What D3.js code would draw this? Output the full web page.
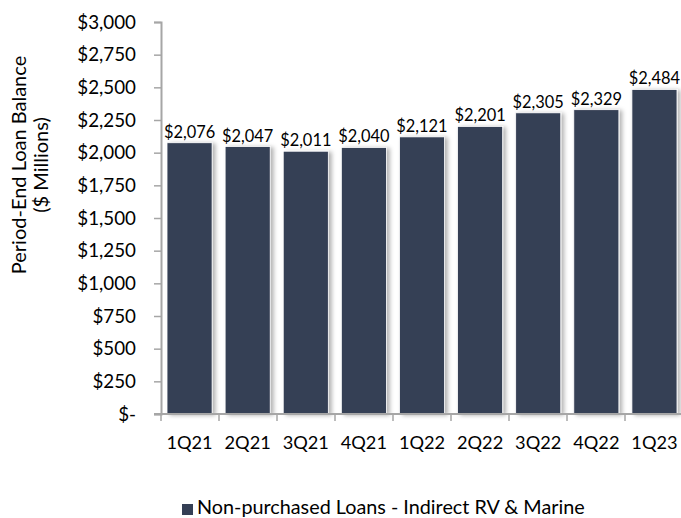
<!DOCTYPE html>
<html>
<head>
<meta charset="utf-8">
<script src="https://cdn.jsdelivr.net/npm/d3@7"></script>
<style>
  body { margin: 0; background: #fff; }
  text { font-family: Lato, "Open Sans", sans-serif; fill: #000; }
</style>
</head>
<body>
<div id="canvas"></div>
<script>
const quarters = ["1Q21", "2Q21", "3Q21", "4Q21", "1Q22", "2Q22", "3Q22", "4Q22", "1Q23"];
const balances = [2076, 2047, 2011, 2040, 2121, 2201, 2305, 2329, 2484];
const yTicks = [0, 250, 500, 750, 1000, 1250, 1500, 1750, 2000, 2250, 2500, 2750, 3000];
const seriesName = "Non-purchased Loans - Indirect RV & Marine";

const width = 681;
const height = 518;
const margin = { top: 22, left: 161, bottom: 104, right: 0 };
const iwidth = width - margin.left - margin.right;
const iheight = height - margin.top - margin.bottom;

const data = quarters.map((q, i) => ({ name: q, value: balances[i] }));

const svg = d3.select("#canvas").append("svg")
  .attr("width", width)
  .attr("height", height);

const defs = svg.append("defs");
const filter = defs.append("filter").attr("id", "shadow")
  .attr("x", "-20%").attr("y", "-5%").attr("width", "150%").attr("height", "115%");
filter.append("feDropShadow")
  .attr("dx", 3).attr("dy", 1).attr("stdDeviation", 2)
  .attr("flood-color", "#000").attr("flood-opacity", 0.3);

const g = svg.append("g")
  .attr("transform", `translate(${margin.left},${margin.top})`);

const step = 58;
const x = d3.scaleBand()
  .domain(quarters)
  .range([0, step * quarters.length])
  .paddingInner(13 / step)
  .paddingOuter(6 / step);

const y = d3.scaleLinear().domain([0, 3000]).range([iheight, 0]);

const fmt = (v) => v === 0 ? "$-" : "$" + d3.format(",")(v);

// bars
g.selectAll(".bar")
  .data(data)
  .enter()
  .append("rect")
  .attr("class", "bar")
  .attr("x", (d) => x(d.name))
  .attr("y", (d) => y(d.value))
  .attr("width", x.bandwidth())
  .attr("height", (d) => iheight - y(d.value))
  .style("fill", "#353f55")
  .style("stroke", "#fff")
  .style("stroke-width", 0.8)
  .attr("filter", "url(#shadow)");

// value labels
g.selectAll(".label")
  .data(data)
  .enter()
  .append("text")
  .attr("class", "label")
  .attr("x", (d) => x(d.name) + x.bandwidth() / 2)
  .attr("y", (d) => y(d.value) - 5)
  .attr("text-anchor", "middle")
  .style("font-size", "16.4px")
  .text((d) => fmt(d.value));

// y axis
const yAxis = g.append("g")
  .call(d3.axisLeft(y).tickValues(yTicks).tickFormat(fmt).tickSize(7).tickPadding(18));
yAxis.select(".domain").attr("stroke", "#a6a6a6").attr("stroke-width", 2);
yAxis.selectAll(".tick line").attr("stroke", "#a6a6a6").attr("stroke-width", 1.5);
yAxis.selectAll(".tick text").style("font-size", "18.8px").attr("font-family", "Lato, sans-serif");

// x axis
const xTickPos = quarters.map((q, i) => i * step).concat([quarters.length * step]);
const xAxis = g.append("g")
  .attr("transform", `translate(0,${iheight})`);
xAxis.append("line")
  .attr("x1", -7).attr("x2", iwidth)
  .attr("stroke", "#a6a6a6").attr("stroke-width", 2);
xAxis.selectAll(".xtick")
  .data(xTickPos)
  .enter()
  .append("line")
  .attr("x1", (d) => d).attr("x2", (d) => d)
  .attr("y1", 0).attr("y2", 7)
  .attr("stroke", "#a6a6a6").attr("stroke-width", 1.5);
xAxis.selectAll(".xlabel")
  .data(quarters)
  .enter()
  .append("text")
  .attr("x", (d) => x(d) + x.bandwidth() / 2)
  .attr("y", 35)
  .attr("text-anchor", "middle")
  .style("font-size", "18.2px")
  .text((d) => d);

// y axis title
const title = svg.append("text")
  .attr("transform", "translate(26,165) rotate(-90)")
  .attr("text-anchor", "middle")
  .style("font-size", "20px");
title.append("tspan").attr("x", 0).attr("dy", 0).text("Period-End Loan Balance");
title.append("tspan").attr("x", 0).attr("dy", 22).text("($ Millions)");

// legend
const legend = svg.append("g").attr("transform", "translate(182,504)");
legend.append("rect")
  .attr("width", 11).attr("height", 11)
  .style("fill", "#353f55");
legend.append("text")
  .attr("x", 15).attr("y", 10)
  .style("font-size", "19.8px")
  .text(seriesName);
</script>
</body>
</html>
